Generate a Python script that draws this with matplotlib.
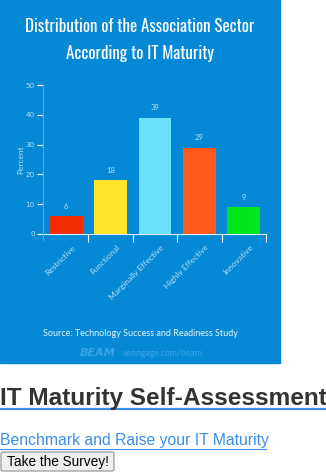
import matplotlib
matplotlib.use("Agg")
import matplotlib.pyplot as plt
from matplotlib.patches import Rectangle, FancyBboxPatch

# data
categories = ["Restrictive", "Functional", "Marginally Effective", "Highly Effective", "Innovative"]
percent = [6, 18, 39, 29, 9]
bar_colors = ["#f22c00", "#ffe52a", "#6be0ff", "#ff5a1a", "#00e41c"]
yticks = [0, 10, 20, 30, 40, 50]

W, H = 326, 472
blue = "#0589d6"
light = "#b9def5"

fig = plt.figure(figsize=(W / 100, H / 100), dpi=100)
fig.patch.set_facecolor("white")

# background layer in pixel coords
bg = fig.add_axes([0, 0, 1, 1])
bg.set_xlim(0, W)
bg.set_ylim(H, 0)
bg.axis("off")
bg.add_patch(Rectangle((0, 0), 280, 363, color=blue, zorder=0))

narrow = ["Oswald", "Fjalla One", "DejaVu Sans"]
bg.text(140, 27, "Distribution of the Association Sector", ha="center", va="center",
        color="white", fontsize=12.2, family=narrow)
bg.text(140, 54, "According to IT Maturity", ha="center", va="center",
        color="white", fontsize=12.2, family=narrow)

bg.text(140, 333, "Source: Technology Success and Readiness Study", ha="center", va="center",
        color="#e3f2fb", fontsize=6.5, family="Lato")
bg.text(98, 353, "BEAM", ha="center", va="center", color="#3aa3e6",
        fontsize=8, fontweight="bold", style="italic", family="DejaVu Sans")
bg.text(123, 353, "venngage.com/beam", ha="left", va="center", color="#3aa3e6",
        fontsize=6.2, family="Lato")

# page text below the image
bg.text(0, 398, "IT Maturity Self-Assessment", ha="left", va="center",
        color="#333333", fontsize=17.6, fontweight="bold", family="Liberation Sans")
bg.plot([0, 326], [408.5, 408.5], color="#3a8ee6", lw=1.6)
bg.text(0, 441, "Benchmark and Raise your IT Maturity", ha="left", va="center",
        color="#3a8ee6", fontsize=11.3, family="Liberation Sans")
bg.plot([0, 266], [448.5, 448.5], color="#3a8ee6", lw=0.8)
bg.add_patch(FancyBboxPatch((1, 452), 113, 19, boxstyle="round,pad=0,rounding_size=2",
                            facecolor="#efefef", edgecolor="#8f8f8f", lw=0.8))
bg.text(57.5, 462, "Take the Survey!", ha="center", va="center",
        color="black", fontsize=9.8, family="Liberation Sans")

# chart axes
x0, x1, ytop, ybot = 44, 266, 85, 234
ax = fig.add_axes([x0 / W, (H - ybot) / H, (x1 - x0) / W, (ybot - ytop) / H])
ax.set_facecolor("none")
pos = range(len(categories))
bars = ax.bar(pos, percent, width=0.74, color=bar_colors, zorder=2)
for b, v in zip(bars, percent):
    ax.text(b.get_x() + b.get_width() / 2, v + 2.2, str(v), ha="center", va="bottom",
            color=light, fontsize=5.5, family="Lato")
ax.set_xlim(-0.5, 4.5)
ax.set_ylim(0, 50)
ax.set_yticks(yticks)
ax.set_yticklabels([str(t) for t in yticks], family="Lato")
ax.tick_params(axis="y", colors="white", length=4, width=0.8, labelcolor=light,
               labelsize=5.2, pad=2)
ax.set_xticks([i + 0.5 for i in pos])
ax.set_xticklabels([])
ax.tick_params(axis="x", colors="white", length=6, width=0.8, direction="out")
for i, c in enumerate(categories):
    ax.text(i + 0.12, -3.3, c, rotation=45, ha="right", va="top", rotation_mode="anchor",
            color=light, fontsize=6, family="Lato")
ax.set_ylabel("Percent", color=light, fontsize=6, family="Lato", labelpad=1)
for s in ["top", "right"]:
    ax.spines[s].set_visible(False)
ax.spines["bottom"].set_color("#d8eefa")
ax.spines["bottom"].set_linewidth(0.8)
ax.spines["left"].set_color("#4aaae6")
ax.spines["left"].set_linewidth(0.8)
ax.spines["left"].set_bounds(-2, 50)
ax.spines["left"].set_position(("data", -0.52))

fig.savefig("out.png", dpi=100, facecolor="white")
